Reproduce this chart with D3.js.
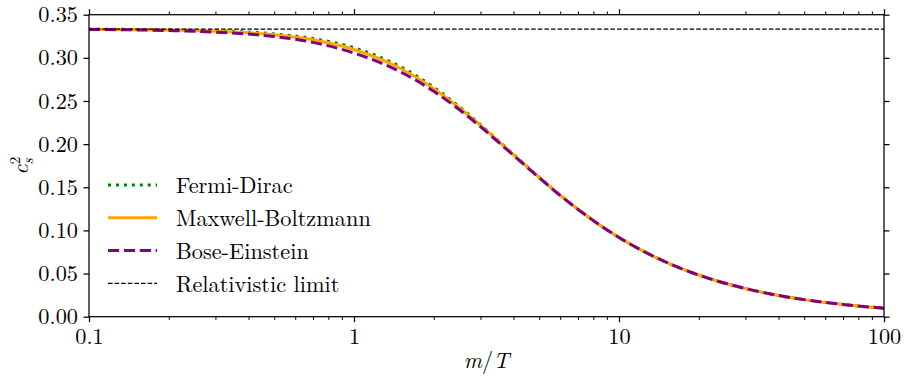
<!DOCTYPE html>
<html>
<head>
<meta charset="utf-8">
<script src="https://cdn.jsdelivr.net/npm/d3@7"></script>
<style>
  body { margin: 0; background: #fff; }
</style>
</head>
<body>
<div id="chart"></div>
<script>
// Values.
var massOverT = [0.1, 0.2, 0.3, 0.4, 0.5, 0.7, 1, 1.5, 2, 2.5, 3, 4, 5, 6, 7, 10, 15, 20, 30, 40, 50, 70, 100];
var fermiDirac = [0.3332, 0.3325, 0.3314, 0.3298, 0.3277, 0.3224, 0.3117, 0.2896, 0.2659, 0.2432, 0.2226, 0.1881,
                  0.1616, 0.1409, 0.1246, 0.0918, 0.0634, 0.0483, 0.0326, 0.0246, 0.0198, 0.0142, 0.0099];
var maxwellBoltzmann = [0.3331, 0.3322, 0.3309, 0.3290, 0.3267, 0.3209, 0.3097, 0.2876, 0.2643, 0.2420, 0.2217, 0.1876,
                        0.1613, 0.1407, 0.1245, 0.0918, 0.0634, 0.0483, 0.0326, 0.0246, 0.0198, 0.0142, 0.0099];
var boseEinstein = [0.3329, 0.3316, 0.3298, 0.3275, 0.3247, 0.3179, 0.3055, 0.2836, 0.2612, 0.2398, 0.2202, 0.1869,
                    0.1610, 0.1405, 0.1244, 0.0918, 0.0634, 0.0483, 0.0326, 0.0246, 0.0198, 0.0142, 0.0099];
var relativisticLimit = [0.3333, 0.3333];
var relativisticX = [0.1, 100];

var seriesNames = ["Fermi-Dirac", "Maxwell-Boltzmann", "Bose-Einstein", "Relativistic limit"];
var xTickValues = [0.1, 1, 10, 100];
var xTickLabels = ["0.1", "1", "10", "100"];
var yTickValues = [0, 0.05, 0.10, 0.15, 0.20, 0.25, 0.30, 0.35];

// Layout.
var width = 904,
    height = 376,
    margin = {left: 89, top: 14.7, right: 20, bottom: 59.3},
    innerW = width - margin.left - margin.right,
    innerH = height - margin.top - margin.bottom,
    fontFamily = "'Latin Modern Roman'",
    fontSize = 22.3;

var svg = d3.select("#chart").append("svg")
    .attr("width", width)
    .attr("height", height);

var g = svg.append("g")
    .attr("transform", "translate(" + margin.left + "," + margin.top + ")");

var x = d3.scaleLog().domain([0.1, 100]).range([0, innerW]),
    y = d3.scaleLinear().domain([0, 0.35]).range([innerH, 0]);

// Minor ticks on the log axis: 2..9 of each decade.
var minorTicks = [];
[0.1, 1, 10].forEach(function (dec) {
  for (var k = 2; k <= 9; k++) minorTicks.push(dec * k);
});

function styleAxis(sel) {
  sel.select(".domain").remove();
  sel.selectAll("line").attr("stroke", "#000");
  sel.selectAll("text")
    .style("font-family", fontFamily)
    .style("font-size", fontSize + "px")
    .attr("fill", "#000");
}

// Bottom axis, labelled, ticks point out.
g.append("g")
  .attr("transform", "translate(0," + innerH + ")")
  .call(d3.axisBottom(x).tickValues(xTickValues)
    .tickFormat(function (d, i) { return xTickLabels[i]; })
    .tickSizeInner(5.5).tickSizeOuter(0).tickPadding(5.5))
  .call(styleAxis)
  .selectAll("line").attr("stroke-width", 1.25);

g.append("g")
  .attr("transform", "translate(0," + innerH + ")")
  .call(d3.axisBottom(x).tickValues(minorTicks).tickFormat("")
    .tickSizeInner(3.2).tickSizeOuter(0))
  .call(styleAxis)
  .selectAll("line").attr("stroke-width", 1);

// Top axis mirrors the bottom ticks.
g.append("g")
  .call(d3.axisTop(x).tickValues(xTickValues).tickFormat("")
    .tickSizeInner(5.5).tickSizeOuter(0))
  .call(styleAxis)
  .selectAll("line").attr("stroke-width", 1.25);

g.append("g")
  .call(d3.axisTop(x).tickValues(minorTicks).tickFormat("")
    .tickSizeInner(3.2).tickSizeOuter(0))
  .call(styleAxis)
  .selectAll("line").attr("stroke-width", 1);

// Left axis, labelled.
g.append("g")
  .call(d3.axisLeft(y).tickValues(yTickValues).tickFormat(d3.format(".2f"))
    .tickSizeInner(5.5).tickSizeOuter(0).tickPadding(5.5))
  .call(styleAxis)
  .selectAll("line").attr("stroke-width", 1.25);

// Right axis, ticks only.
g.append("g")
  .attr("transform", "translate(" + innerW + ",0)")
  .call(d3.axisRight(y).tickValues(yTickValues).tickFormat("")
    .tickSizeInner(5.5).tickSizeOuter(0))
  .call(styleAxis)
  .selectAll("line").attr("stroke-width", 1.25);

// Curves.
var series = [
  {name: seriesNames[0], xs: massOverT, ys: fermiDirac, color: "green", width: 3, dash: "3,4.95"},
  {name: seriesNames[1], xs: massOverT, ys: maxwellBoltzmann, color: "orange", width: 3, dash: null},
  {name: seriesNames[2], xs: massOverT, ys: boseEinstein, color: "purple", width: 3, dash: "11.1,4.8"},
  {name: seriesNames[3], xs: relativisticX, ys: relativisticLimit, color: "#000", width: 1.25, dash: "4.6,2"}
];

var line = d3.line()
  .x(function (d) { return x(d[0]); })
  .y(function (d) { return y(d[1]); })
  .curve(d3.curveMonotoneX);

series.forEach(function (s) {
  g.append("path")
    .datum(s.xs.map(function (v, i) { return [v, s.ys[i]]; }))
    .attr("d", line)
    .attr("fill", "none")
    .attr("stroke", s.color)
    .attr("stroke-width", s.width)
    .attr("stroke-dasharray", s.dash);
});

// Frame.
g.append("rect")
  .attr("width", innerW)
  .attr("height", innerH)
  .attr("fill", "none")
  .attr("stroke", "#000")
  .attr("stroke-width", 1.25);

// Legend (no frame).
var legend = g.append("g")
  .attr("transform", "translate(" + (108 - margin.left) + "," + (185 - margin.top) + ")");

series.forEach(function (s, i) {
  var row = legend.append("g").attr("transform", "translate(0," + (i * 32.8) + ")");
  row.append("line")
    .attr("x1", 0).attr("x2", 49)
    .attr("stroke", s.color)
    .attr("stroke-width", s.width)
    .attr("stroke-dasharray", s.dash);
  row.append("text")
    .attr("x", 68)
    .attr("y", 8.3)
    .style("font-family", fontFamily)
    .style("font-size", fontSize + "px")
    .text(s.name);
});

// Axis labels.
var xl = svg.append("text")
  .attr("x", margin.left + innerW / 2)
  .attr("y", 368)
  .attr("text-anchor", "middle")
  .style("font-family", fontFamily)
  .style("font-size", fontSize + "px");
xl.append("tspan").style("font-style", "italic").text("m");
xl.append("tspan").text("/");
xl.append("tspan").style("font-style", "italic").text("T");

var yl = svg.append("text")
  .attr("transform", "translate(28," + (margin.top + innerH / 2) + ") rotate(-90)")
  .attr("text-anchor", "middle")
  .style("font-family", fontFamily)
  .style("font-size", fontSize + "px");
yl.append("tspan").style("font-style", "italic").text("c");
yl.append("tspan").style("font-style", "italic").style("font-size", "15px").attr("dy", 5).text("s");
yl.append("tspan").style("font-size", "15px").attr("dx", -6).attr("dy", -13).text("2");
</script>
</body>
</html>
